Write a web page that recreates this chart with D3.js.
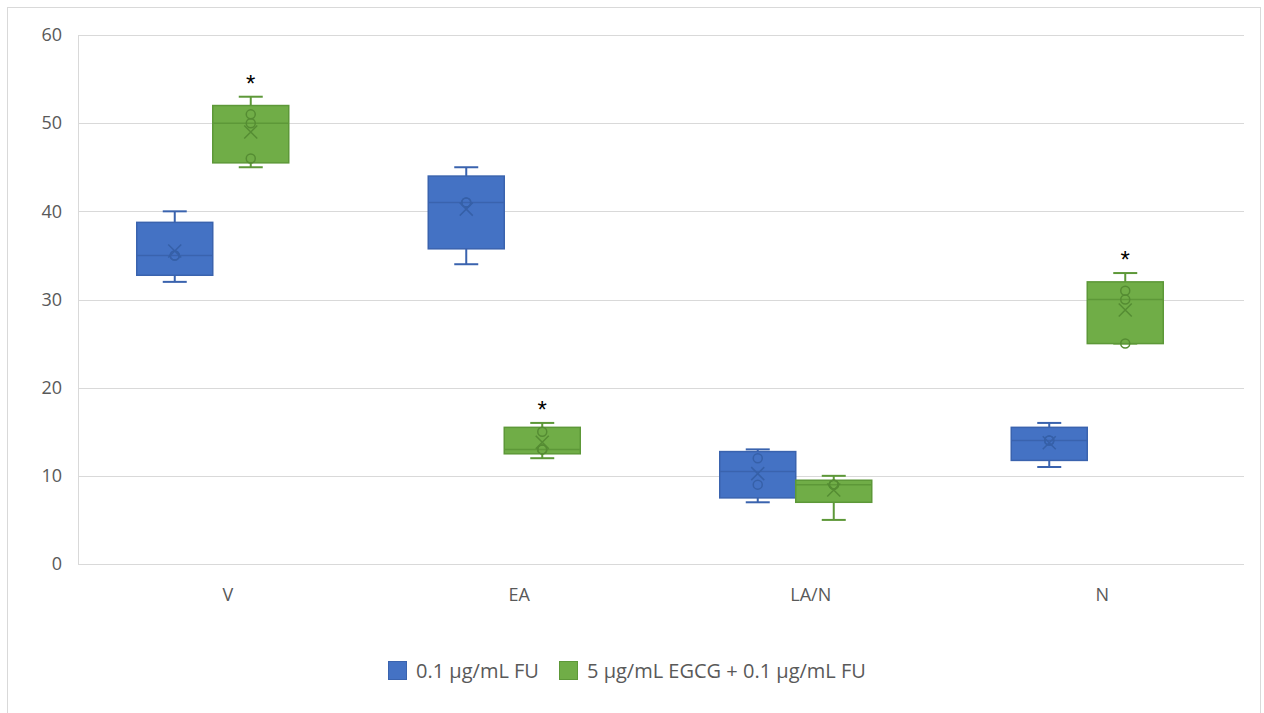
<!DOCTYPE html>
<html>
<head>
<meta charset="utf-8">
<script src="https://cdn.jsdelivr.net/npm/d3@7"></script>
<style>
  html, body { margin: 0; padding: 0; background: #fff; }
  svg { display: block; font-family: "Open Sans", Lato, sans-serif; }
</style>
</head>
<body>
<svg id="chart" width="1264" height="713"></svg>
<script>
// Phases and treatment groups
const categories = ["V", "EA", "LA/N", "N"];
const seriesNames = ["0.1 µg/mL FU", "5 µg/mL EGCG + 0.1 µg/mL FU"];
const seriesFill = ["#4472C4", "#70AD47"];
const seriesStroke = ["#3A63AE", "#5D9838"];
const seriesMark = ["#3660A8", "#558C33"];

// Sample values per phase (one array per group)
const fuSamples = [[32, 35, 35, 40], [34, 41, 41, 45], [7, 9, 12, 13], [11, 14, 14, 16]];
const egcgSamples = [[45, 46, 50, 51, 53], [12, 13, 13, 15, 16], [5, 9, 9, 9, 10], [25, 25, 30, 31, 33]];
// Phases where the combined treatment differs significantly
const significantEgcg = ["V", "EA", "N"];
const yTicks = [0, 10, 20, 30, 40, 50, 60];

const FONT = "'Open Sans', Lato, sans-serif";
const svg = d3.select("#chart");
const plot = { left: 78, right: 1244, top: 35, bottom: 564 };

// Outer frame
svg.append("rect").attr("x", 7.5).attr("y", 7.5).attr("width", 1253).attr("height", 720)
  .attr("fill", "none").attr("stroke", "#d9d9d9").attr("stroke-width", 1);

const y = d3.scaleLinear().domain([0, 60]).range([plot.bottom, plot.top]);
const x = d3.scaleBand().domain(categories).range([plot.left, plot.right]);
const groupWidth = 152;
const inner = d3.scaleBand().domain([0, 1]).range([0, groupWidth]);
const groupStart = c => x(c) + x.bandwidth() / 2 - 87;

// Gridlines
svg.append("g").selectAll("line").data(yTicks).join("line")
  .attr("x1", plot.left).attr("x2", plot.right)
  .attr("y1", d => Math.round(y(d)) + 0.5).attr("y2", d => Math.round(y(d)) + 0.5)
  .attr("stroke", "#d9d9d9").attr("stroke-width", 1);
svg.append("line").attr("x1", plot.left + 0.5).attr("x2", plot.left + 0.5)
  .attr("y1", plot.top).attr("y2", plot.bottom)
  .attr("stroke", "#d9d9d9");

// Axis labels
const yAxis = d3.axisLeft(y).tickValues(yTicks).tickSize(0).tickPadding(16);
const gy = svg.append("g").attr("transform", `translate(${plot.left},0)`).call(yAxis);
gy.select(".domain").remove();
gy.selectAll("text").attr("fill", "#595959").style("font-size", "18px").style("font-family", FONT);

const xAxis = d3.axisBottom(x).tickSize(0).tickPadding(24);
const gx = svg.append("g").attr("transform", `translate(4,${plot.bottom})`).call(xAxis);
gx.select(".domain").remove();
gx.selectAll("text").attr("fill", "#595959").style("font-size", "18px").style("font-family", FONT);

// Exclusive-method quartile, as used by spreadsheet box plots
function quartileExc(sorted, p) {
  const n = sorted.length;
  const h = (n + 1) * p;
  const lo = Math.floor(h);
  if (lo < 1) return sorted[0];
  if (lo >= n) return sorted[n - 1];
  return sorted[lo - 1] + (h - lo) * (sorted[lo] - sorted[lo - 1]);
}

function stats(values) {
  const s = values.slice().sort((a, b) => a - b);
  return {
    min: s[0], max: s[s.length - 1],
    q1: quartileExc(s, 0.25), median: quartileExc(s, 0.5), q3: quartileExc(s, 0.75),
    mean: d3.mean(s),
    inner: s.slice(1, s.length - 1)
  };
}

const boxes = [];
categories.forEach((c, i) => {
  [fuSamples[i], egcgSamples[i]].forEach((vals, k) => {
    boxes.push({ cat: c, series: k, ...stats(vals) });
  });
});

const boxW = inner.bandwidth();
const capW = 24;
const g = svg.append("g");
boxes.forEach(b => {
  const x0 = groupStart(b.cat) + inner(b.series);
  const cx = x0 + boxW / 2;
  const stroke = seriesStroke[b.series];
  const mark = seriesMark[b.series];
  const bg = g.append("g");
  // whiskers
  bg.append("line").attr("x1", cx).attr("x2", cx).attr("y1", y(b.max)).attr("y2", y(b.q3))
    .attr("stroke", stroke).attr("stroke-width", 2);
  bg.append("line").attr("x1", cx).attr("x2", cx).attr("y1", y(b.q1)).attr("y2", y(b.min))
    .attr("stroke", stroke).attr("stroke-width", 2);
  bg.append("line").attr("x1", cx - capW / 2).attr("x2", cx + capW / 2).attr("y1", y(b.max)).attr("y2", y(b.max))
    .attr("stroke", stroke).attr("stroke-width", 2);
  bg.append("line").attr("x1", cx - capW / 2).attr("x2", cx + capW / 2).attr("y1", y(b.min)).attr("y2", y(b.min))
    .attr("stroke", stroke).attr("stroke-width", 2);
  // box
  bg.append("rect").attr("x", x0).attr("y", y(b.q3)).attr("width", boxW).attr("height", y(b.q1) - y(b.q3))
    .attr("fill", seriesFill[b.series]).attr("stroke", stroke).attr("stroke-width", 1.5);
  // median
  bg.append("line").attr("x1", x0).attr("x2", x0 + boxW).attr("y1", y(b.median)).attr("y2", y(b.median))
    .attr("stroke", stroke).attr("stroke-width", 1.5);
  // inner points
  bg.selectAll("circle").data(b.inner).join("circle")
    .attr("cx", cx).attr("cy", d => y(d)).attr("r", 4.5)
    .attr("fill", "none").attr("stroke", mark).attr("stroke-width", 1.5);
  // mean marker
  const m = 6.5, my = y(b.mean);
  bg.append("path").attr("d", `M${cx - m},${my - m}L${cx + m},${my + m}M${cx - m},${my + m}L${cx + m},${my - m}`)
    .attr("stroke", mark).attr("stroke-width", 1.5).attr("fill", "none");
  // significance marker
  if (b.series === 1 && significantEgcg.includes(b.cat)) {
    g.append("text").attr("x", cx).attr("y", y(b.max) - 5).attr("text-anchor", "middle")
      .attr("fill", "#000").style("font-size", "24px").style("font-family", "'Liberation Sans', Arial, sans-serif")
      .text("*");
  }
});

// Legend
const legend = svg.append("g").attr("transform", "translate(0,670)");
const legendX = [388, 559];
seriesNames.forEach((name, k) => {
  legend.append("rect").attr("x", legendX[k] + 0.5).attr("y", -8.5).attr("width", 18).attr("height", 18)
    .attr("fill", seriesFill[k]).attr("stroke", seriesStroke[k]).attr("stroke-width", 1);
  legend.append("text").attr("x", legendX[k] + 28).attr("y", 1).attr("dy", "0.35em")
    .attr("fill", "#595959").style("font-size", "20px").style("font-family", FONT).text(name);
});
</script>
</body>
</html>
